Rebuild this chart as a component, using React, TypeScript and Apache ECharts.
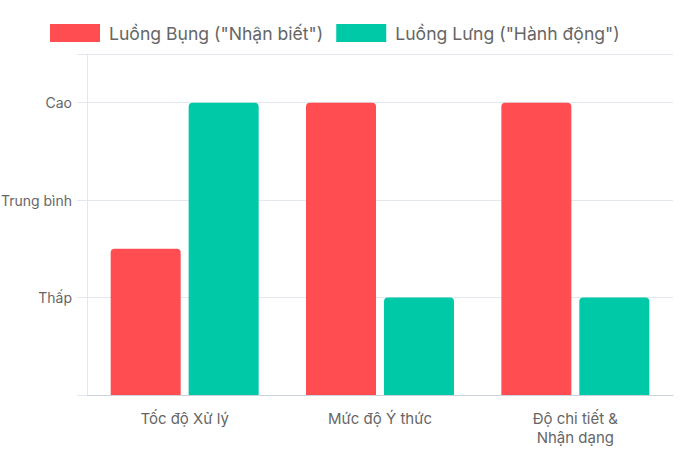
import { useEffect, useRef } from 'react';
import * as echarts from 'echarts';

const categories = ['Tốc độ Xử lý', 'Mức độ Ý thức', 'Độ chi tiết &\nNhận dạng'];
const seriesNames = ['Luồng Bụng ("Nhận biết")', 'Luồng Lưng ("Hành động")'];
const ventralValues = [1.5, 3, 3];
const dorsalValues = [3, 1, 1];
const levelLabels = ['', 'Thấp', 'Trung bình', 'Cao'];
const colors = ['#FF4D52', '#00C9A7'];

export default function App() {
  const chartRef = useRef<HTMLDivElement>(null);

  useEffect(() => {
    if (!chartRef.current) return;
    const chart = echarts.init(chartRef.current, null, { renderer: 'svg' });

    const font = 'Inter, "Noto Sans", sans-serif';

    chart.setOption({
      animation: false,
      textStyle: { fontFamily: font },
      legend: {
        top: 19,
        left: 45,
        itemWidth: 50,
        itemHeight: 18,
        itemGap: 13,
        icon: 'rect',
        textStyle: { fontFamily: font, fontSize: 17.6, color: '#666', padding: [0, 0, 0, 4] },
        data: seriesNames,
      },
      grid: { left: 87, right: 13, top: 54, bottom: 60, containLabel: false, outerBoundsMode: 'none' },
      xAxis: {
        type: 'category',
        data: categories,
        axisLine: { show: true, lineStyle: { color: '#cbd2dc', width: 1 } },
        axisTick: { show: false },
        axisLabel: { color: '#666', fontSize: 15, fontFamily: font, margin: 14, lineHeight: 19 },
        splitLine: { show: false },
      },
      yAxis: {
        type: 'value',
        min: 0,
        max: 3.5,
        interval: 1,
        axisLine: { show: true, lineStyle: { color: '#e3e7ee' } },
        axisTick: { show: true, length: 10, lineStyle: { color: '#e3e7ee' } },
        axisLabel: {
          color: '#666',
          fontSize: 14,
          fontFamily: font,
          margin: 15,
          formatter: (v: number) => (Number.isInteger(v) ? levelLabels[v] ?? '' : ''),
        },
        splitLine: { show: true, lineStyle: { color: '#e3e7ee' } },
      },
      series: [
        {
          name: seriesNames[0],
          type: 'bar',
          data: ventralValues,
          barWidth: 70,
          barGap: '11.4%',
          itemStyle: { color: colors[0], borderRadius: [4, 4, 0, 0] },
        },
        {
          name: seriesNames[1],
          type: 'bar',
          data: dorsalValues,
          barWidth: 70,
          barGap: '11.4%',
          itemStyle: { color: colors[1], borderRadius: [4, 4, 0, 0] },
        },
      ],
    });

    return () => chart.dispose();
  }, []);

  return (
    <div
      ref={chartRef}
      style={{ position: 'fixed', left: 0, top: 0, width: 686, height: 455, background: '#fff' }}
    />
  );
}
